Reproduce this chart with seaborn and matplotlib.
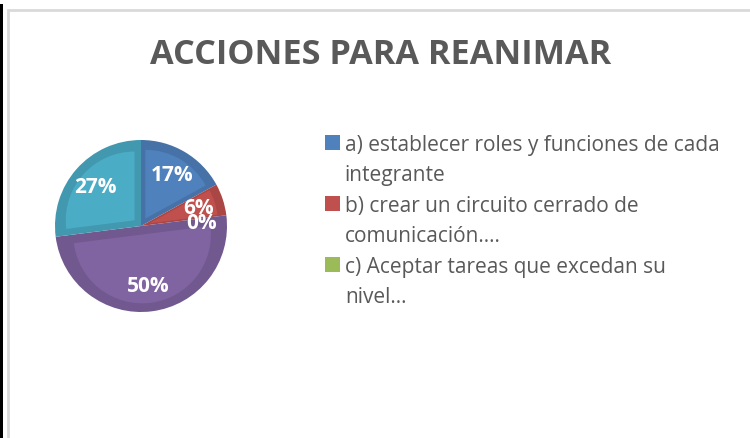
"""Pie chart: acciones para reanimar."""

import matplotlib.pyplot as plt
import matplotlib.patches as mpatches
import numpy as np
import seaborn as sns

# data
categories = [
    "a) establecer roles y funciones de cada\nintegrante",
    "b) crear un circuito cerrado de\ncomunicación....",
    "c) Aceptar tareas que excedan su\nnivel…",
    "d)",
    "e)",
]
percentages = [17, 6, 0, 50, 27]
shown_in_legend = 3

colors = ["#4F81BD", "#C0504D", "#9BBB59", "#8064A2", "#4BACC6"]
edge_colors = ["#4672A8", "#AA4643", "#89A54E", "#71588F", "#4198AF"]
TEXT_GREY = "#595959"

sns.set_theme(style="white")
plt.rcParams["font.family"] = ["Open Sans", "DejaVu Sans"]

W, H = 750, 439
fig = plt.figure(figsize=(W / 100, H / 100), dpi=100)

# chart frame (light grey) and the black strip at the far left
fig.patches.append(mpatches.Rectangle((8 / W, -0.1), 1.2, 1 - 11 / H + 0.1,
                                      transform=fig.transFigure, fill=False,
                                      edgecolor="#D9D9D9", linewidth=2))
fig.patches.append(mpatches.Rectangle((0, 0), 3 / W, 1 - 5 / H,
                                      transform=fig.transFigure,
                                      facecolor="black", edgecolor="none"))

fig.text(381 / W, 1 - 55 / H, "ACCIONES PARA REANIMAR", ha="center", va="center",
         fontsize=24.7, fontweight="bold", color=TEXT_GREY)

# pie axes: centre (141, 227), radius 86 px
cx, cy, r = 141, 227, 86
ax = fig.add_axes([(cx - r) / W, (H - cy - r) / H, 2 * r / W, 2 * r / H])

wedges, _ = ax.pie(percentages, colors=edge_colors, startangle=90,
                   counterclock=False, radius=1,
                   wedgeprops=dict(linewidth=0))

# lighter inner bevel for each slice
for w, c in zip(wedges, colors):
    if w.theta2 - w.theta1 <= 0:
        continue
    mid = np.deg2rad((w.theta1 + w.theta2) / 2)
    shift = 0.10
    inner = mpatches.Wedge((shift * np.cos(mid), shift * np.sin(mid)), 0.80,
                           w.theta1, w.theta2, facecolor=c, edgecolor="none")
    ax.add_patch(inner)

# percentage labels
for w, p in zip(wedges, percentages):
    mid = np.deg2rad((w.theta1 + w.theta2) / 2)
    dist = 0.70
    if p == 0:
        mid -= np.deg2rad(4)
    ax.text(dist * np.cos(mid), dist * np.sin(mid), f"{p}%", ha="center",
            va="center", color="white", fontsize=15, fontweight="bold")

ax.set_xlim(-1, 1)
ax.set_ylim(-1, 1)
ax.set_aspect("equal")
ax.axis("off")

# legend: one row per text line, the square only on the first line of each entry
handles, labels = [], []
for c, label in zip(colors[:shown_in_legend], categories[:shown_in_legend]):
    for i, line in enumerate(label.split("\n")):
        if i == 0:
            handles.append(mpatches.Patch(facecolor=c, edgecolor="none"))
        else:
            handles.append(mpatches.Patch(facecolor="none", edgecolor="none"))
        labels.append(line)

leg = fig.legend(handles, labels,
                 loc="upper left", bbox_to_anchor=(325 / W, 1 - 135 / H),
                 frameon=False, fontsize=15, handlelength=0.7,
                 handleheight=0.7, handletextpad=0.25, labelspacing=0.45,
                 borderpad=0, borderaxespad=0)
for t in leg.get_texts():
    t.set_color(TEXT_GREY)

fig.savefig("out.png", dpi=100)
